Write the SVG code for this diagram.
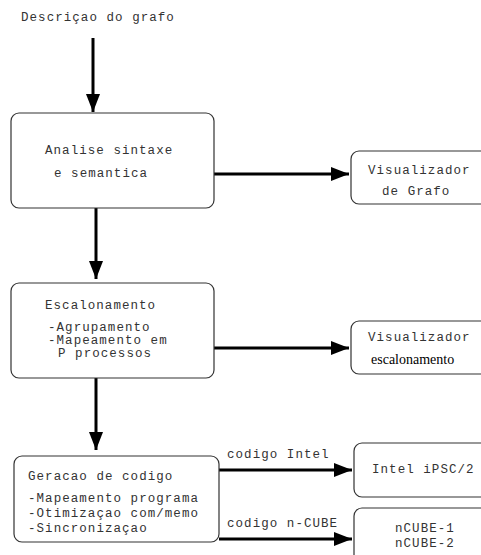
<svg xmlns="http://www.w3.org/2000/svg" width="481" height="555" viewBox="0 0 481 555">
<style>
.box{fill:#fff;stroke:#333;stroke-width:1.2}
.t{font-family:"Liberation Mono",monospace;font-size:12.5px;letter-spacing:1.05px;fill:#333}
.s{font-family:"Liberation Serif",serif;font-size:14px;fill:#000}
.c{stroke:#000;stroke-width:3;fill:none}
</style>
<defs>
<marker id="ah" markerUnits="userSpaceOnUse" markerWidth="20" markerHeight="14" refX="18" refY="7" orient="auto">
<path d="M0,0 L18,7 L0,14 Z" fill="#000"/>
</marker>
</defs>
<rect width="481" height="555" fill="#fff"/>
<g id="connectors">
<line class="c" x1="93" y1="38" x2="93" y2="112" marker-end="url(#ah)"/>
<line class="c" x1="96" y1="208" x2="96" y2="279" marker-end="url(#ah)"/>
<line class="c" x1="96" y1="378" x2="96" y2="450" marker-end="url(#ah)"/>
<line class="c" x1="214" y1="174" x2="349" y2="174" marker-end="url(#ah)"/>
<line class="c" x1="214" y1="348" x2="349" y2="348" marker-end="url(#ah)"/>
<line class="c" x1="219" y1="470" x2="352" y2="470" marker-end="url(#ah)"/>
<line class="c" x1="219" y1="539" x2="352" y2="539" marker-end="url(#ah)"/>
<text class="t" x="227" y="458">codigo Intel</text>
<text class="t" x="227" y="527">codigo n-CUBE</text>
</g>
<g id="descricao">
<text class="t" x="21" y="21">Descriçao do grafo</text>
</g>
<g id="analise">
<rect class="box" x="11" y="113" width="203" height="95" rx="8"/>
<text class="t" x="45" y="154">Analise sintaxe</text>
<text class="t" x="54" y="177">e semantica</text>
</g>
<g id="vis-grafo">
<rect class="box" x="351" y="151" width="150" height="53" rx="8"/>
<text class="t" x="368" y="174">Visualizador</text>
<text class="t" x="382" y="195">de Grafo</text>
</g>
<g id="escalonamento">
<rect class="box" x="11" y="283" width="203" height="95" rx="8"/>
<text class="t" x="45" y="309">Escalonamento</text>
<text class="t" x="48" y="331">-Agrupamento</text>
<text class="t" x="48" y="344">-Mapeamento em</text>
<text class="t" x="58" y="357">P processos</text>
</g>
<g id="vis-escal">
<rect class="box" x="351" y="321" width="150" height="53" rx="8"/>
<text class="t" x="368" y="341">Visualizador</text>
<text class="s" x="371" y="364">escalonamento</text>
</g>
<g id="geracao">
<rect class="box" x="14" y="456" width="205" height="86" rx="8"/>
<text class="t" x="28" y="480">Geracao de codigo</text>
<text class="t" x="28" y="502">-Mapeamento programa</text>
<text class="t" x="28" y="517">-Otimizaçao com/memo</text>
<text class="t" x="28" y="532">-Sincronizaçao</text>
</g>
<g id="intel">
<rect class="box" x="354" y="443" width="150" height="54" rx="8"/>
<text class="t" x="372" y="473">Intel iPSC/2</text>
</g>
<g id="ncube">
<rect class="box" x="354" y="508" width="150" height="60" rx="8"/>
<text class="t" x="395" y="532">nCUBE-1</text>
<text class="t" x="395" y="547">nCUBE-2</text>
</g>
</svg>
